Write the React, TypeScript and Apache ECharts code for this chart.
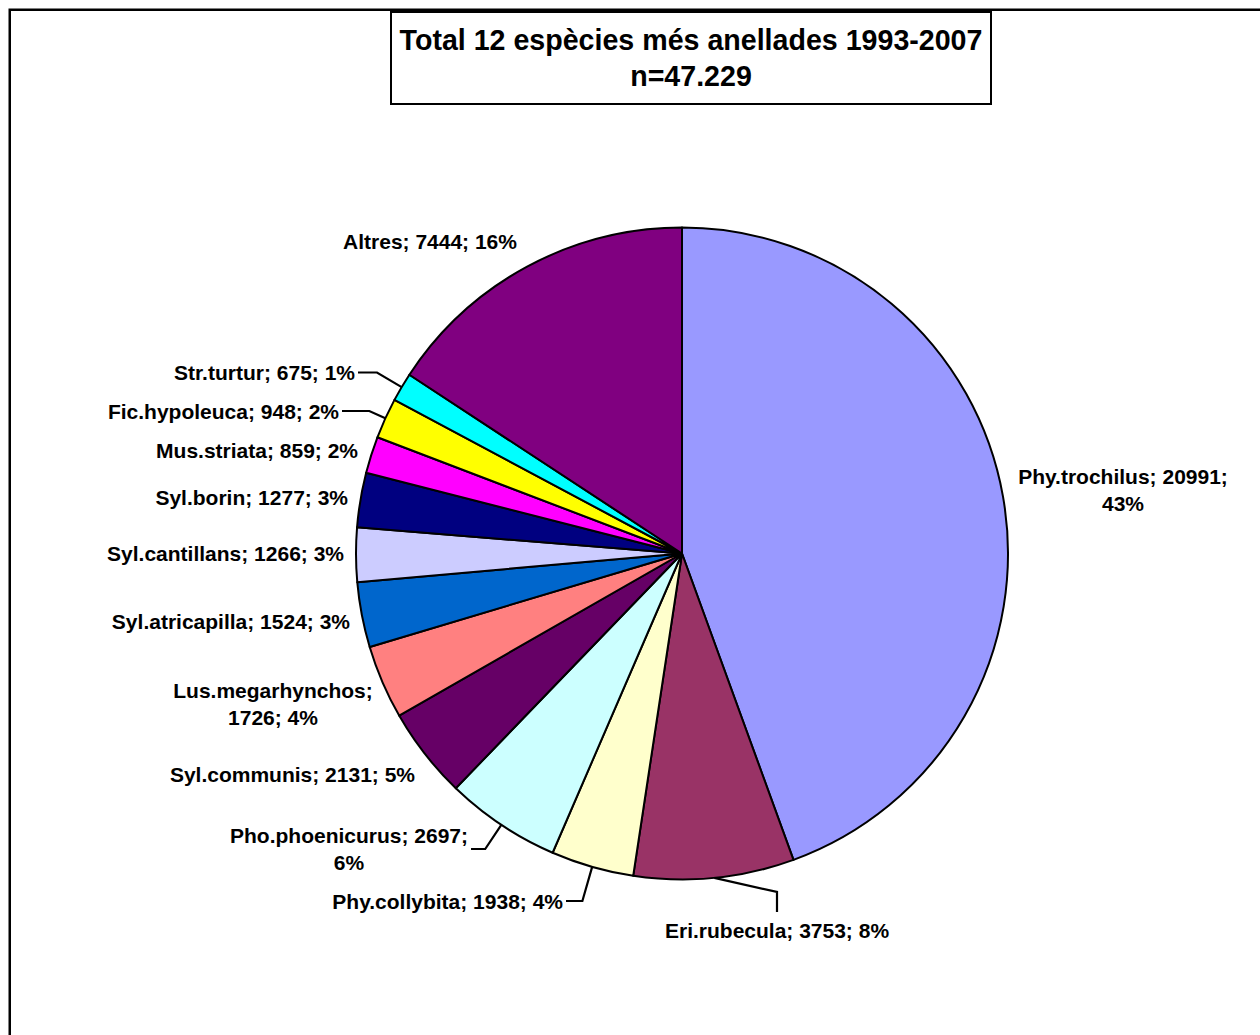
import React, { useEffect, useRef } from "react";
import * as echarts from "echarts";

// ---------- data ----------
const CATEGORIES = [
  "Phy.trochilus",
  "Eri.rubecula",
  "Phy.collybita",
  "Pho.phoenicurus",
  "Syl.communis",
  "Lus.megarhynchos",
  "Syl.atricapilla",
  "Syl.cantillans",
  "Syl.borin",
  "Mus.striata",
  "Fic.hypoleuca",
  "Str.turtur",
  "Altres",
];
const VALUES = [20991, 3753, 1938, 2697, 2131, 1726, 1524, 1266, 1277, 859, 948, 675, 7444];
// percentages as printed on the labels
const PERCENTS = [43, 8, 4, 6, 5, 4, 3, 3, 3, 2, 2, 1, 16];
const TITLE_LINES = ["Total 12 espècies més anellades 1993-2007", "n=47.229"];

// ---------- styling / layout ----------
const COLORS = [
  "#9999FF",
  "#993366",
  "#FFFFCC",
  "#CCFFFF",
  "#660066",
  "#FF8080",
  "#0066CC",
  "#CCCCFF",
  "#000080",
  "#FF00FF",
  "#FFFF00",
  "#00FFFF",
  "#800080",
];
// where the label text wraps
const LABEL_BREAK = ["value", "none", "none", "value", "none", "name", "none", "none", "none", "none", "none", "none", "none"];
// label anchor placement (text layout only)
const LABEL_LAYOUT: { x: number; y: number; align: string; line: string }[] = [
  { x: 1123, y: 489.5, align: "center", line: "none" }, // Phy.trochilus
  { x: 777, y: 930, align: "center", line: "v" }, // Eri.rubecula
  { x: 563, y: 901, align: "right", line: "h" }, // Phy.collybita
  { x: 349, y: 849, align: "center", line: "h" }, // Pho.phoenicurus
  { x: 415, y: 774, align: "right", line: "none" }, // Syl.communis
  { x: 273, y: 703.5, align: "center", line: "none" }, // Lus.megarhynchos
  { x: 350, y: 621, align: "right", line: "none" }, // Syl.atricapilla
  { x: 344, y: 553, align: "right", line: "none" }, // Syl.cantillans
  { x: 348, y: 497, align: "right", line: "none" }, // Syl.borin
  { x: 358, y: 450, align: "right", line: "none" }, // Mus.striata
  { x: 339, y: 411, align: "right", line: "h" }, // Fic.hypoleuca
  { x: 355, y: 372.5, align: "right", line: "h" }, // Str.turtur
  { x: 430, y: 241, align: "center", line: "none" }, // Altres
];

const CX = 682;
const CY = 553.5;
const R = 326;
const FONT = "'Liberation Sans', Arial, Helvetica, sans-serif";

function edgePoint(i: number): number[] {
  const total = VALUES.reduce((a, b) => a + b, 0);
  let before = 0;
  for (let k = 0; k < i; k++) before += VALUES[k];
  const mid = ((before + VALUES[i] / 2) / total) * Math.PI * 2;
  return [CX + R * Math.sin(mid), CY - R * Math.cos(mid)];
}

export default function App() {
  const ref = useRef<HTMLDivElement>(null);

  useEffect(() => {
    if (!ref.current) return;
    const chart = echarts.init(ref.current, undefined, { renderer: "svg" });

    const data = CATEGORIES.map((name, i) => ({
      name,
      value: VALUES[i],
      itemStyle: { color: COLORS[i] },
      labelLine: { show: LABEL_LAYOUT[i].line !== "none" },
    }));

    const option: any = {
      animation: false,
      backgroundColor: "#ffffff",
      title: {
        text: TITLE_LINES.join("\n"),
        left: 682,
        top: 12,
        padding: [10, 9, 10, 9],
        borderColor: "#000000",
        borderWidth: 2,
        backgroundColor: "#ffffff",
        textAlign: "center",
        textStyle: {
          fontFamily: FONT,
          fontSize: 28.6,
          fontWeight: "bold",
          color: "#000000",
          lineHeight: 36,
        },
      },
      graphic: [
        {
          type: "rect",
          shape: { x: 9.75, y: 9.75, width: 1400, height: 1200 },
          style: { fill: "none", stroke: "#000000", lineWidth: 2.5 },
          silent: true,
          z: 100,
        },
      ],
      series: [
        {
          type: "pie",
          center: [CX, CY],
          radius: R,
          startAngle: 90,
          clockwise: true,
          avoidLabelOverlap: false,
          silent: true,
          itemStyle: { borderColor: "#000000", borderWidth: 2 },
          label: {
            show: true,
            position: "outside",
            alignTo: "none",
            overflow: "none",
            color: "#000000",
            fontFamily: FONT,
            fontSize: 21,
            fontWeight: "bold",
            lineHeight: 27,
            formatter: (p: any) => {
              const i = p.dataIndex;
              const pct = PERCENTS[i] + "%";
              const b = LABEL_BREAK[i];
              if (b === "name") return `${p.name};\n${p.value}; ${pct}`;
              if (b === "value") return `${p.name}; ${p.value};\n${pct}`;
              return `${p.name}; ${p.value}; ${pct}`;
            },
          },
          labelLine: {
            show: true,
            length: 20,
            length2: 20,
            smooth: false,
            lineStyle: { color: "#000000", width: 2.2 },
          },
          labelLayout: (params: any) => {
            const i = params.dataIndex;
            const L = LABEL_LAYOUT[i];
            const res: any = { x: L.x, y: L.y, align: L.align, verticalAlign: "middle" };
            if (L.line !== "none") {
              const e =
                params.labelLinePoints && params.labelLinePoints[0]
                  ? params.labelLinePoints[0]
                  : edgePoint(i);
              if (L.line === "h") {
                const w = params.labelRect ? params.labelRect.width : 0;
                const right = L.align === "right" ? L.x : L.x + w / 2;
                const dx = (e[0] - CX) / R;
                const dy = (e[1] - CY) / R;
                const t = (L.y - e[1]) / dy;
                res.labelLinePoints = [
                  [e[0], e[1]],
                  [e[0] + t * dx, L.y],
                  [right + 3, L.y],
                ];
              } else {
                res.labelLinePoints = [
                  [e[0], e[1]],
                  [L.x, L.y - 38],
                  [L.x, L.y - 18],
                ];
              }
            }
            return res;
          },
          data,
        },
      ],
    };

    chart.setOption(option);
    return () => chart.dispose();
  }, []);

  return (
    <div
      ref={ref}
      style={{ position: "fixed", left: 0, top: 0, width: 1260, height: 1035, background: "#fff" }}
    />
  );
}
